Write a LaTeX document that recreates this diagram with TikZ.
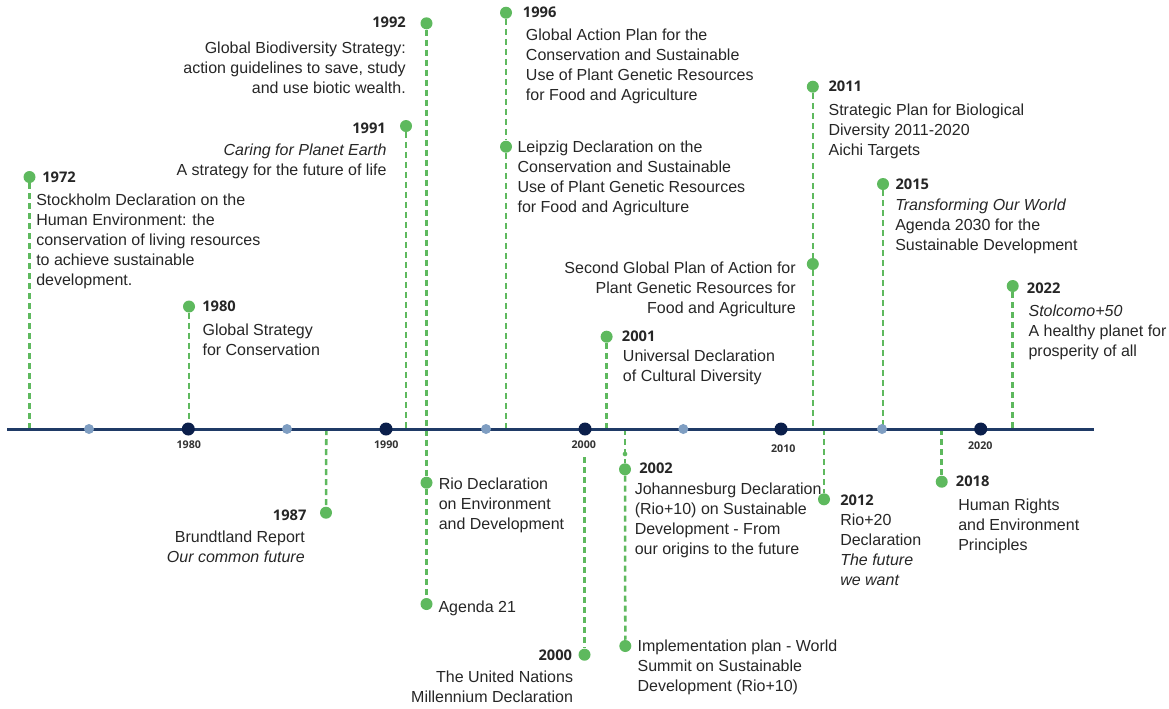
\documentclass[tikz,border=0pt]{standalone}
\usepackage{fontspec}
\setmainfont{Liberation Sans}
\newfontfamily\yrfont{Open Sans}
\usetikzlibrary{backgrounds}
\definecolor{evgreen}{HTML}{5EB95E}
\definecolor{navyline}{HTML}{1F3A66}
\definecolor{navydot}{HTML}{0B1F4B}
\definecolor{lightdot}{HTML}{7F9EC2}
\definecolor{txtcol}{HTML}{262626}
\definecolor{axtxt}{HTML}{333333}
\begin{document}
\begin{tikzpicture}[x=0.75pt,y=-0.75pt,
  evdot/.style={circle,fill=evgreen,inner sep=0pt,minimum size=9pt},
  decdot/.style={circle,fill=navydot,inner sep=0pt,minimum size=9.75pt},
  halfdot/.style={circle,fill=lightdot,inner sep=0pt,minimum size=7.5pt},
  tinydot/.style={circle,fill=evgreen,inner sep=0pt,minimum size=3.5pt},
  conn/.style={draw=evgreen,line width=1.9pt,dash pattern=on 4.5pt off 3pt},
  axisline/.style={draw=navyline,line width=2.25pt},
  yr/.style={font=\yrfont\bfseries\fontsize{11}{13}\selectfont,text=txtcol,inner sep=0pt},
  axlab/.style={font=\yrfont\bfseries\fontsize{8}{10}\selectfont,text=axtxt,inner sep=0pt},
  txtl/.style={font=\fontsize{12}{15}\selectfont,text=txtcol,align=left,anchor=north west,inner sep=0pt,yshift=-1.9pt,execute at begin node=\strut},
  txtr/.style={font=\fontsize{12}{15}\selectfont,text=txtcol,align=right,anchor=north east,inner sep=0pt,yshift=-1.9pt,execute at begin node=\strut},
]
\useasboundingbox (0,0) rectangle (1169,708);

% axis
\coordinate (axL) at (7,429);
\coordinate (axR) at (1094,429);

% decade dots and half-decade dots
\node[decdot] (d1980) at (188.3,429) {};
\node[decdot] (d1990) at (386,429) {};
\node[decdot] (d2000) at (585,429) {};
\node[decdot] (d2010) at (781,429) {};
\node[decdot] (d2020) at (980.7,429) {};
\node[halfdot] (m1975) at (89,429) {};
\node[halfdot] (m1985) at (287,429) {};
\node[halfdot] (m1995) at (486,429) {};
\node[halfdot] (m2005) at (683.3,429) {};
\node[halfdot] (m2015) at (882,429) {};

\node[axlab] (l1980) at (188.8,445) {1980};
\node[axlab] (l1990) at (386.3,445) {1990};
\node[axlab] (l2000) at (583.8,445) {2000};
\node[axlab] (l2010) at (783.3,449) {2010};
\node[axlab] (l2020) at (980.3,445.7) {2020};

% axis anchor coordinates
\coordinate (a1972) at (29.5,429);
\coordinate (a1980) at (189,429);
\coordinate (a1987) at (326.3,429);
\coordinate (a1991) at (406,429);
\coordinate (a1996) at (506,429);
\coordinate (c2000) at (584.5,457);
\coordinate (a2001) at (606.6,429);
\coordinate (a2002) at (625,429);
\coordinate (a2011) at (812.8,429);
\coordinate (a2012) at (824,429);
\coordinate (a2015) at (883,429);
\coordinate (a2018) at (941.7,429);
\coordinate (a2022) at (1012.7,429);

% event dots
\node[evdot] (e1972) at (29.5,177) {};
\node[evdot] (e1980) at (189,306.5) {};
\node[evdot] (e1987) at (326,512.7) {};
\node[evdot] (e1991) at (406,126) {};
\node[evdot] (e1992) at (426.5,23.3) {};
\node[evdot] (eRio) at (426.5,482.7) {};
\node[evdot] (eAg) at (426.5,604) {};
\node[evdot] (e1996) at (506,12.7) {};
\node[evdot] (eLeip) at (506,146.7) {};
\node[evdot] (e2000) at (584.5,654.7) {};
\node[evdot] (e2001) at (606.6,336.7) {};
\node[tinydot] (t2002) at (625,454) {};
\node[evdot] (e2002) at (625,469.3) {};
\node[evdot] (eImpl) at (625.3,646) {};
\node[evdot] (e2011) at (812.8,86.7) {};
\node[evdot] (eSGP) at (812.8,264) {};
\node[evdot] (e2012) at (824,499.3) {};
\node[evdot] (e2015) at (883,184) {};
\node[evdot] (e2018) at (941.7,481.7) {};
\node[evdot] (e2022) at (1012.7,286) {};

% connectors and axis
\begin{scope}[on background layer]
\draw[conn] (e1972) -- (a1972);
\draw[conn] (e1980) -- (a1980);
\draw[conn] (a1987) -- (e1987);
\draw[conn] (e1991) -- (a1991);
\draw[conn] (e1992) -- (eRio);
\draw[conn] (eRio) -- (eAg);
\draw[conn] (e1996) -- (eLeip);
\draw[conn] (eLeip) -- (a1996);
\draw[conn] (c2000) -- (e2000);
\draw[conn] (e2001) -- (a2001);
\draw[conn] (a2002) -- (e2002);
\draw[conn] (e2002) -- (eImpl);
\draw[conn] (e2011) -- (eSGP);
\draw[conn] (eSGP) -- (a2011);
\draw[conn] (a2012) -- (e2012);
\draw[conn] (e2015) -- (a2015);
\draw[conn] (a2018) -- (e2018);
\draw[conn] (e2022) -- (a2022);
\draw[axisline] (axL) -- (axR);
\end{scope}

% year headings
\node[yr,anchor=west] (h1972) at (42,177) {1972};
\node[yr,anchor=west] (h1980) at (202,306.5) {1980};
\node[yr,anchor=east] (h1987) at (306.7,515.7) {1987};
\node[yr,anchor=east] (h1991) at (386,128) {1991};
\node[yr,anchor=east] (h1992) at (406,22.7) {1992};
\node[yr,anchor=west] (h1996) at (522.7,12.7) {1996};
\node[yr,anchor=east] (h2000) at (572.3,655.3) {2000};
\node[yr,anchor=west] (h2001) at (621.7,336.7) {2001};
\node[yr,anchor=west] (h2002) at (639,468.3) {2002};
\node[yr,anchor=west] (h2011) at (828.3,86) {2011};
\node[yr,anchor=west] (h2012) at (840,500) {2012};
\node[yr,anchor=west] (h2015) at (895.3,184.7) {2015};
\node[yr,anchor=west] (h2018) at (955.6,481.7) {2018};
\node[yr,anchor=west] (h2022) at (1026.7,288.7) {2022};

% texts
\node[txtl] (x1972) at (36,191.5) {Stockholm Declaration on the\\Human Environment: the\\conservation of living resources\\to achieve sustainable\\development.};
\node[txtl] (x1980) at (202.3,321.5) {Global Strategy\\for Conservation};
\node[txtr] (x1987) at (305,528.5) {Brundtland Report\\\textit{Our common future}};
\node[txtr] (x1991) at (386.7,141.5) {\textit{Caring for Planet Earth}\\A strategy for the future of life};
\node[txtr] (x1992) at (406,39) {Global Biodiversity Strategy:\\action guidelines to save, study\\and use biotic wealth.};
\node[txtl] (x1996) at (525.7,25.8) {Global Action Plan for the\\Conservation and Sustainable\\Use of Plant Genetic Resources\\for Food and Agriculture};
\node[txtl] (xLeip) at (517.3,138.2) {Leipzig Declaration on the\\Conservation and Sustainable\\Use of Plant Genetic Resources\\for Food and Agriculture};
\node[txtr] (xSGP) at (796,258.8) {Second Global Plan of Action for\\Plant Genetic Resources for\\Food and Agriculture};
\node[txtl] (x2001) at (622.7,347.5) {Universal Declaration\\of Cultural Diversity};
\node[txtr] (x2000) at (573.3,668.2) {The United Nations\\Millennium Declaration};
\node[txtl] (xRio) at (438.5,474.8) {Rio Declaration\\on Environment\\and Development};
\node[txtl] (xAg) at (438.3,595.5) {Agenda 21};
\node[txtl] (x2002) at (634.5,479.8) {Johannesburg Declaration\\(Rio+10) on Sustainable\\Development - From\\our origins to the future};
\node[txtl] (xImpl) at (637.3,636.8) {Implementation plan - World\\Summit on Sustainable\\Development (Rio+10)};
\node[txtl] (x2011) at (828.3,100.8) {Strategic Plan for Biological\\Diversity 2011-2020\\Aichi Targets};
\node[txtl] (x2012) at (840,510.8) {Rio+20\\Declaration\\\textit{The future}\\\textit{we want}};
\node[txtl] (x2015) at (895,196.5) {\textit{Transforming Our World}\\Agenda 2030 for the\\Sustainable Development};
\node[txtl] (x2018) at (958,496.5) {Human Rights\\and Environment\\Principles};
\node[txtl] (x2022) at (1028.3,302.2) {\textit{Stolcomo+50}\\A healthy planet for\\prosperity of all};
\end{tikzpicture}
\end{document}
